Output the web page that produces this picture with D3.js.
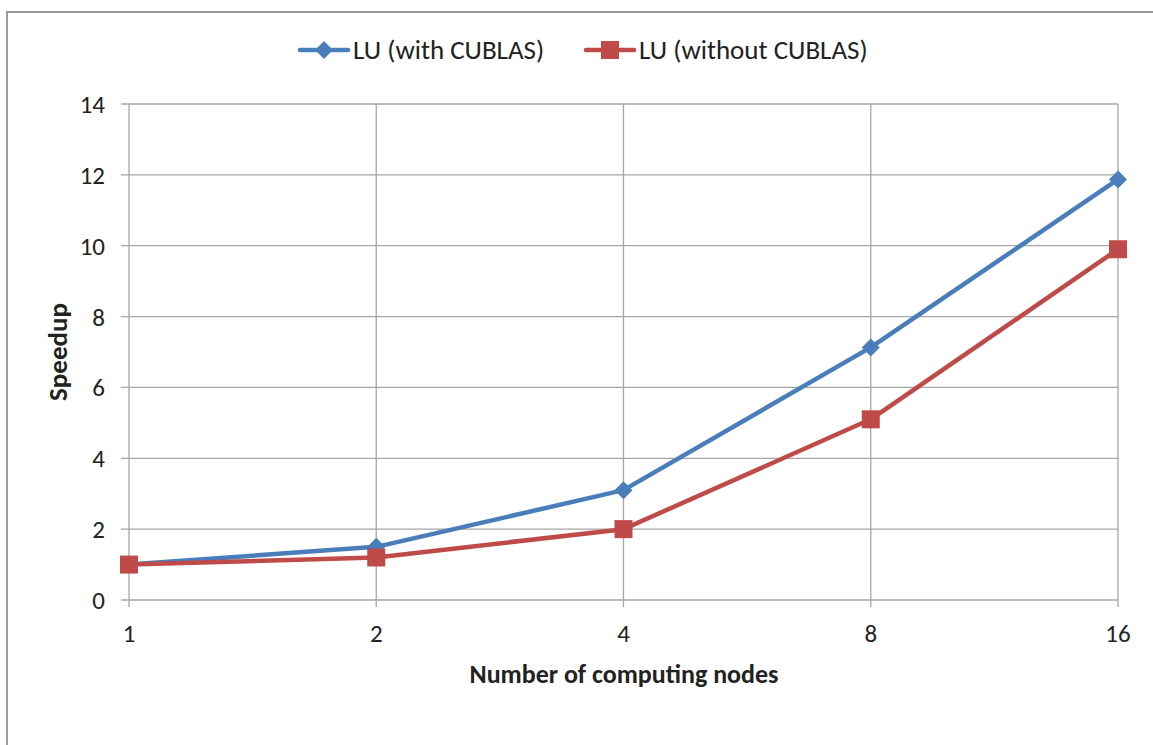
<!DOCTYPE html>
<html>
<head>
<meta charset="utf-8">
<script src="https://cdn.jsdelivr.net/npm/d3@7"></script>
<style>
  body { margin: 0; background: #fff; }
  text { font-family: Carlito, Lato, "Open Sans", sans-serif; fill: #222; }
</style>
</head>
<body>
<svg width="1153" height="745"></svg>
<script>
"use strict";

var nodes = ["1", "2", "4", "8", "16"];
var withCublas = [1.0, 1.5, 3.1, 7.13, 11.87];
var withoutCublas = [1.0, 1.2, 2.0, 5.1, 9.9];
var yTicks = [0, 2, 4, 6, 8, 10, 12, 14];

var series = [
    { name: "LU (with CUBLAS)", values: withCublas, color: "#4A7EBB", marker: "diamond" },
    { name: "LU (without CUBLAS)", values: withoutCublas, color: "#BE4B48", marker: "square" }
];

var svg = d3.select("svg");

// outer frame (only top and left visible)
svg.append("path")
    .attr("d", "M7,745 V12 H1153")
    .attr("fill", "none")
    .attr("stroke", "#9a9a9a")
    .attr("stroke-width", 2);

var x = d3.scalePoint()
    .domain(nodes)
    .range([129, 1118]);

var y = d3.scaleLinear()
    .domain([0, 14])
    .range([600, 104]);

// horizontal grid
svg.append("g")
    .selectAll("line")
    .data(yTicks)
    .enter()
    .append("line")
    .attr("x1", 121)
    .attr("x2", 1118)
    .attr("y1", function (d) { return y(d); })
    .attr("y2", function (d) { return y(d); })
    .attr("stroke", "#a6a6a6")
    .attr("stroke-width", 1.3);

// vertical grid
svg.append("g")
    .selectAll("line")
    .data(nodes)
    .enter()
    .append("line")
    .attr("x1", function (d) { return x(d); })
    .attr("x2", function (d) { return x(d); })
    .attr("y1", 104)
    .attr("y2", 607)
    .attr("stroke", "#a6a6a6")
    .attr("stroke-width", 1.3);

// y tick labels
svg.append("g")
    .selectAll("text")
    .data(yTicks)
    .enter()
    .append("text")
    .attr("x", 105)
    .attr("y", function (d) { return y(d) + 9; })
    .attr("text-anchor", "end")
    .style("font-size", "25px")
    .text(function (d) { return d; });

// x tick labels
svg.append("g")
    .selectAll("text")
    .data(nodes)
    .enter()
    .append("text")
    .attr("x", function (d) { return x(d); })
    .attr("y", 642)
    .attr("text-anchor", "middle")
    .style("font-size", "25px")
    .text(function (d) { return d; });

// axis titles
svg.append("text")
    .attr("transform", "translate(67,352) rotate(-90)")
    .attr("text-anchor", "middle")
    .style("font-size", "27px")
    .style("font-weight", "bold")
    .text("Speedup");

svg.append("text")
    .attr("x", 624)
    .attr("y", 683)
    .attr("text-anchor", "middle")
    .style("font-size", "26px")
    .style("font-weight", "bold")
    .text("Number of computing nodes");

var line = d3.line()
    .x(function (d, i) { return x(nodes[i]); })
    .y(function (d) { return y(d); });

function drawMarker(g, type, color) {
    if (type === "diamond") {
        g.append("path")
            .attr("d", "M0,-9 L9,0 L0,9 L-9,0 Z")
            .attr("fill", color);
    } else {
        g.append("rect")
            .attr("x", -9).attr("y", -9)
            .attr("width", 18).attr("height", 18)
            .attr("fill", color);
    }
}

series.forEach(function (s) {
    svg.append("path")
        .datum(s.values)
        .attr("d", line)
        .attr("fill", "none")
        .attr("stroke", s.color)
        .attr("stroke-width", 4.5)
        .attr("stroke-linejoin", "round");

    svg.append("g")
        .selectAll("g")
        .data(s.values)
        .enter()
        .append("g")
        .attr("transform", function (d, i) {
            return "translate(" + x(nodes[i]) + "," + y(d) + ")";
        })
        .each(function () { drawMarker(d3.select(this), s.marker, s.color); });
});

// legend
var legendX = [300, 586];
var legend = svg.append("g")
    .selectAll("g")
    .data(series)
    .enter()
    .append("g")
    .attr("transform", function (d, i) { return "translate(" + legendX[i] + ",50)"; });

legend.append("line")
    .attr("x1", 0).attr("x2", 48)
    .attr("stroke", function (d) { return d.color; })
    .attr("stroke-width", 4.5)
    .attr("stroke-linecap", "round");

legend.append("g")
    .attr("transform", "translate(24,0)")
    .each(function (d) { drawMarker(d3.select(this), d.marker, d.color); });

legend.append("text")
    .attr("x", 53)
    .attr("y", 9)
    .style("font-size", "27px")
    .text(function (d) { return d.name; });
</script>
</body>
</html>
